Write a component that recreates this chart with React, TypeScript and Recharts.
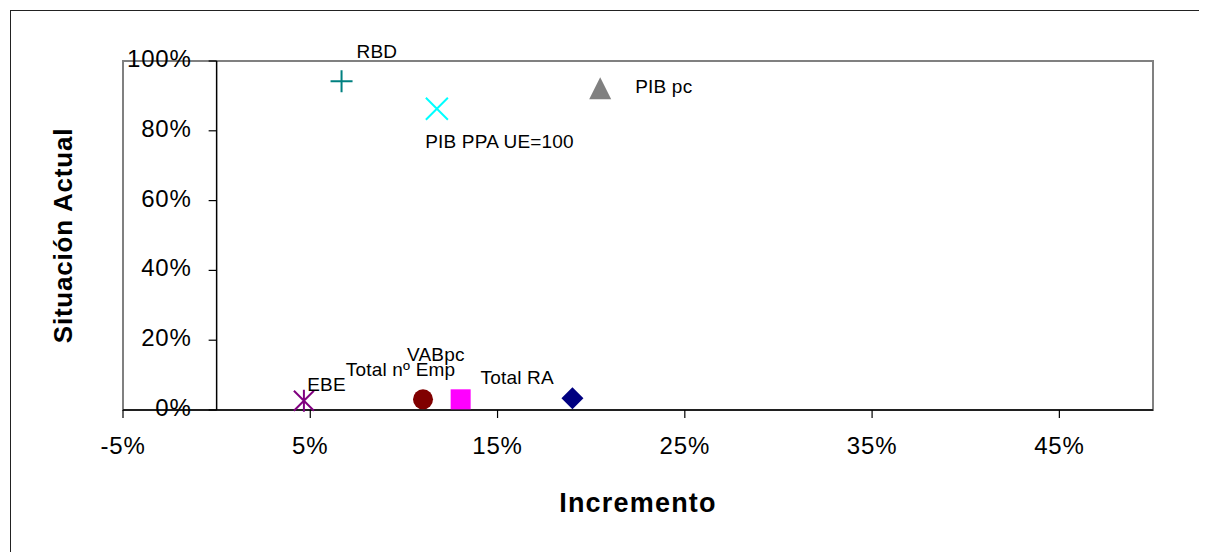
import React from 'react';
import {
  ScatterChart,
  Scatter,
  XAxis,
  YAxis,
  ReferenceArea,
  ReferenceLine,
  ReferenceDot,
  Label,
} from 'recharts';

// ---- data ----
const names = ['RBD', 'PIB PPA UE=100', 'PIB pc', 'EBE', 'Total nº Emp', 'VABpc', 'Total RA'];
const incremento = [6.67, 11.76, 20.48, 4.66, 11.02, 13.03, 19.0];
const situacion = [94.2, 86.3, 92.2, 2.65, 3.06, 3.06, 3.35];
const xTicks = [-5, 5, 15, 25, 35, 45];
const yTicks = [0, 20, 40, 60, 80, 100];
const xTitle = 'Incremento';
const yTitle = 'Situación Actual';

// ---- styles ----
const markerKinds = ['plus', 'cross', 'triangle', 'star', 'circle', 'square', 'diamond'];
const markerColors = ['#008080', '#00FFFF', '#808080', '#800080', '#800000', '#FF00FF', '#000080'];
const labelOffsets: [number, number][] = [
  [15, -29.6],
  [-11.7, 32],
  [35, -2.5],
  [3.3, -17],
  [-77.3, -30.3],
  [-53.7, -45.3],
  [-92, -21.3],
];

const FONT = '"Liberation Sans", Arial, sans-serif';

const points = names.map((n, i) => ({ name: n, x: incremento[i], y: situacion[i], idx: i }));

function Marker({ kind, color, cx, cy }: { kind: string; color: string; cx: number; cy: number }) {
  switch (kind) {
    case 'plus':
      return (
        <path
          d={`M${cx - 11},${cy}H${cx + 11}M${cx},${cy - 11}V${cy + 11}`}
          stroke={color}
          strokeWidth={2}
          fill="none"
        />
      );
    case 'cross':
      return (
        <path
          d={`M${cx - 11},${cy - 11}L${cx + 11},${cy + 11}M${cx + 11},${cy - 11}L${cx - 11},${cy + 11}`}
          stroke={color}
          strokeWidth={2}
          fill="none"
        />
      );
    case 'triangle':
      return (
        <polygon
          points={`${cx},${cy - 11} ${cx + 11},${cy + 11} ${cx - 11},${cy + 11}`}
          fill={color}
        />
      );
    case 'star':
      return (
        <path
          d={`M${cx - 10},${cy - 10}L${cx + 10},${cy + 10}M${cx + 10},${cy - 10}L${cx - 10},${cy + 10}M${cx},${cy - 11}V${cy + 11}`}
          stroke={color}
          strokeWidth={2}
          fill="none"
        />
      );
    case 'circle':
      return <circle cx={cx} cy={cy} r={10} fill={color} />;
    case 'square':
      return <rect x={cx - 10} y={cy - 10} width={20} height={20} fill={color} />;
    case 'diamond':
      return (
        <polygon
          points={`${cx},${cy - 11} ${cx + 11},${cy} ${cx},${cy + 11} ${cx - 11},${cy}`}
          fill={color}
        />
      );
    default:
      return null;
  }
}

const pointShape = (props: any) => {
  const { cx, cy, payload } = props;
  const i = payload.idx;
  const [dx, dy] = labelOffsets[i];
  return (
    <g>
      <Marker kind={markerKinds[i]} color={markerColors[i]} cx={cx} cy={cy} />
      <text
        x={cx + dx}
        y={cy + dy + 6.8}
        fontSize={19}
        fontFamily={FONT}
        letterSpacing={0.2}
        fill="#000"
      >
        {payload.name}
      </text>
    </g>
  );
};

const yTickShape = (v: number) => (props: any) => {
  const { cx, cy } = props;
  return (
    <g>
      <line x1={cx - 8} y1={cy} x2={cx} y2={cy} stroke="#000" strokeWidth={1.2} />
      <text
        x={cx - 25}
        y={cy + 6}
        textAnchor="end"
        fontSize={24}
        fontFamily={FONT}
        letterSpacing={0.8}
        fill="#000"
      >
        {`${v}%`}
      </text>
    </g>
  );
};

const yTitleContent = (props: any) => {
  const vb = props.viewBox || {};
  const x = (vb.x ?? 0) + 64;
  const y = (vb.y ?? 0) + (vb.height ?? 0) / 2;
  return (
    <text
      x={x}
      y={y}
      transform={`rotate(-90, ${x}, ${y})`}
      textAnchor="middle"
      fontSize={26}
      fontWeight="bold"
      fontFamily={FONT}
      letterSpacing={0.8}
      fill="#000"
    >
      {yTitle}
    </text>
  );
};

const xTitleContent = (props: any) => {
  const vb = props.viewBox || {};
  const x = (vb.x ?? 0) + (vb.width ?? 0) / 2;
  const y = (vb.y ?? 0) + 102;
  return (
    <text
      x={x}
      y={y}
      textAnchor="middle"
      fontSize={27}
      fontWeight="bold"
      fontFamily={FONT}
      letterSpacing={1.2}
      fill="#000"
    >
      {xTitle}
    </text>
  );
};

export default function App() {
  return (
    <div style={{ position: 'relative', width: 1199, height: 544, overflow: 'hidden', background: '#fff' }}>
      <div
        style={{
          position: 'absolute',
          left: 2,
          top: 2,
          width: 1400,
          height: 800,
          borderTop: '1.6px solid #222',
          borderLeft: '1.6px solid #222',
          pointerEvents: 'none',
        }}
      />
      <ScatterChart width={1199} height={544} margin={{ top: 53, right: 54, left: 0, bottom: 32 }}>
        <XAxis
          type="number"
          dataKey="x"
          domain={[-5, 50]}
          ticks={xTicks}
          height={110}
          tickSize={8}
          tickMargin={19}
          tickFormatter={(v: number) => `${v}%`}
          axisLine={{ stroke: '#000', strokeWidth: 1.5 }}
          tickLine={{ stroke: '#000', strokeWidth: 1.2 }}
          tick={{ fontSize: 24, fontFamily: FONT, fill: '#000', letterSpacing: 0.8 } as any}
        >
          <Label content={xTitleContent} />
        </XAxis>
        <YAxis
          type="number"
          dataKey="y"
          domain={[0, 100]}
          ticks={yTicks}
          width={115}
          axisLine={false}
          tickLine={false}
          tick={false}
        >
          <Label content={yTitleContent} />
        </YAxis>
        <ReferenceArea x1={-5} x2={50} y1={0} y2={100} fill="none" stroke="#808080" strokeWidth={2} ifOverflow="visible" />
        <ReferenceLine x={0} stroke="#000" strokeWidth={1.5} />
        {yTicks.map((v) => (
          <ReferenceDot key={v} x={0} y={v} r={0} shape={yTickShape(v)} ifOverflow="visible" />
        ))}
        {points.map((p) => (
          <Scatter key={p.name} data={[p]} shape={pointShape} isAnimationActive={false} />
        ))}
      </ScatterChart>
    </div>
  );
}
